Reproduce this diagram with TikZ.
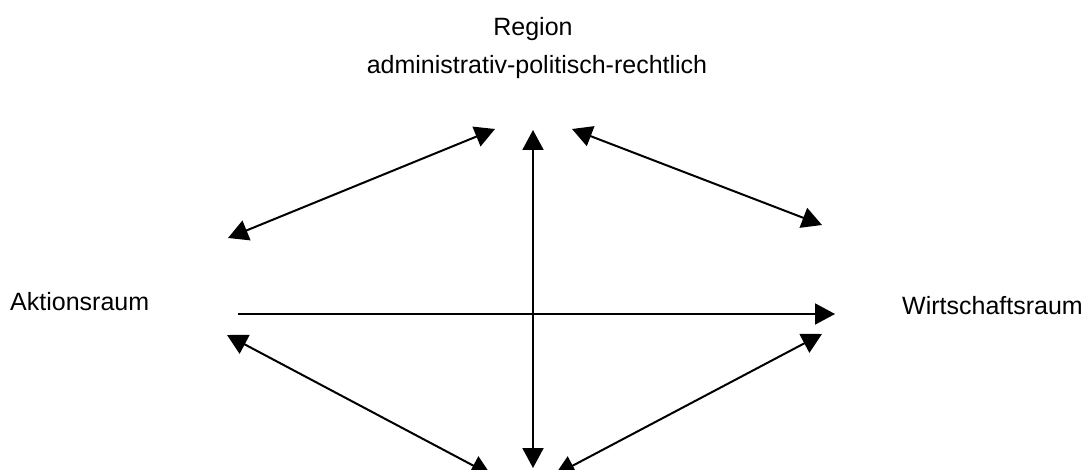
\documentclass[tikz,border=0pt]{standalone}
\usepackage{fontspec}
\setmainfont{Liberation Sans}
\usetikzlibrary{arrows.meta}
\begin{document}
\begin{tikzpicture}[x=1pt,y=-1pt,
  lbl/.style={anchor=base,inner sep=0pt,font=\fontsize{25}{30}\selectfont},
  conn/.style={line width=2pt,{Triangle[length=20pt,width=21pt]}-{Triangle[length=20pt,width=21pt]}},
  oneway/.style={line width=2pt,-{Triangle[length=20pt,width=21pt]}}]
\useasboundingbox (0,0) rectangle (1087,470);
\node[lbl] (region) at (533,36) {Region};
\node[lbl] (admin) at (537,74) {administrativ-politisch-rechtlich};
\node[lbl,anchor=base west] (aktion) at (10,311) {Aktionsraum};
\node[lbl,anchor=base west] (wirt) at (902,315) {Wirtschaftsraum};
\coordinate (a1) at (228,238);
\coordinate (a2) at (495,129);
\coordinate (b1) at (572,129);
\coordinate (b2) at (822,225);
\coordinate (c1) at (533,130);
\coordinate (c2) at (533,468);
\coordinate (d1) at (238,314);
\coordinate (d2) at (835,314);
\coordinate (e1) at (227,335);
\coordinate (e2) at (491,475);
\coordinate (f1) at (822,334);
\coordinate (f2) at (555,475);
\draw[conn] (a1) -- (a2);
\draw[conn] (b1) -- (b2);
\draw[conn] (c1) -- (c2);
\draw[oneway] (d1) -- (d2);
\draw[conn] (e1) -- (e2);
\draw[conn] (f1) -- (f2);
\end{tikzpicture}
\end{document}
